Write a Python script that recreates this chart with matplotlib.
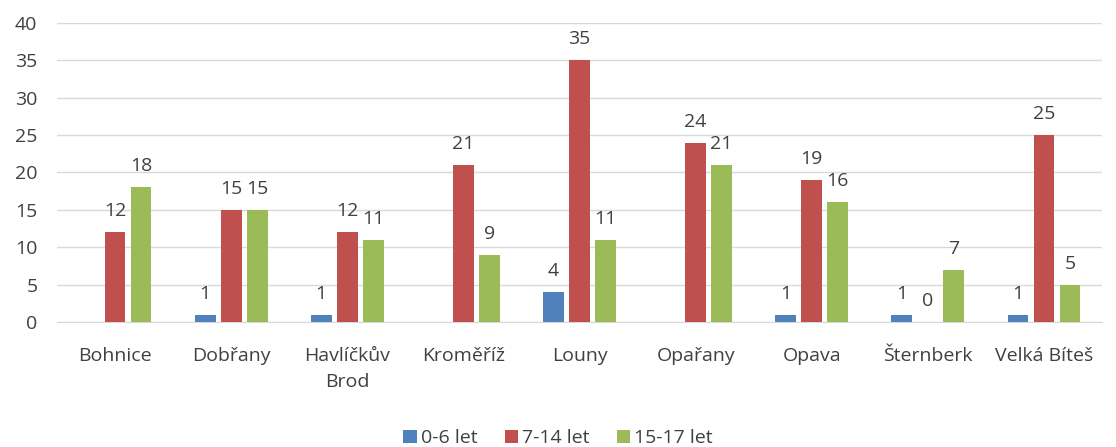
import matplotlib.pyplot as plt
import numpy as np

categories = ['Bohnice', 'Dobřany', 'Havlíčkův\nBrod', 'Kroměříž', 'Louny',
              'Opařany', 'Opava', 'Šternberk', 'Velká Bíteš']
series_names = ['0-6 let', '7-14 let', '15-17 let']
age_0_6 = [np.nan, 1, 1, np.nan, 4, np.nan, 1, 1, 1]
age_7_14 = [12, 15, 12, 21, 35, 24, 19, 0, 25]
age_15_17 = [18, 15, 11, 9, 11, 21, 16, 7, 5]
colors = ['#4F81BD', '#C0504D', '#9BBB59']

plt.rcParams['font.family'] = ['Open Sans', 'DejaVu Sans']
txt = '#404040'

fig = plt.figure(figsize=(11.16, 4.47), dpi=100)
ax = fig.add_axes([0.051, 0.2796, 0.9365, 0.669])

x = np.arange(len(categories))
w = 0.18
step = 0.224
for i, (vals, name, c) in enumerate(zip([age_0_6, age_7_14, age_15_17], series_names, colors)):
    pos = x + (i - 1) * step
    ax.bar(pos, vals, width=w, color=c, label=name, zorder=3)
    for p, v in zip(pos, vals):
        if np.isnan(v):
            continue
        ax.text(p, v + 1.6, f'{int(v)}', ha='center', va='bottom',
                fontsize=14, color=txt)

ax.set_xlim(-0.5, len(categories) - 0.5)
ax.set_ylim(0, 40)
ax.set_yticks(range(0, 41, 5))
ax.yaxis.grid(True, color='#d9d9d9', linewidth=1, zorder=0)
ax.set_axisbelow(True)
for s in ['top', 'right', 'left']:
    ax.spines[s].set_visible(False)
ax.spines['bottom'].set_color('#d9d9d9')
ax.tick_params(axis='both', length=0, labelsize=14, colors=txt)
ax.tick_params(axis='y', pad=14)
ax.tick_params(axis='x', pad=18)
ax.set_xticks(x)
ax.set_xticklabels(categories, linespacing=1.55, va='top')

fig.legend(loc='lower center', bbox_to_anchor=(0.5, -0.04), ncol=3, frameon=False,
           fontsize=14, handlelength=0.7, handleheight=0.7, handletextpad=0.2,
           columnspacing=1.4, labelcolor=txt)

fig.savefig('out.png', dpi=100)
